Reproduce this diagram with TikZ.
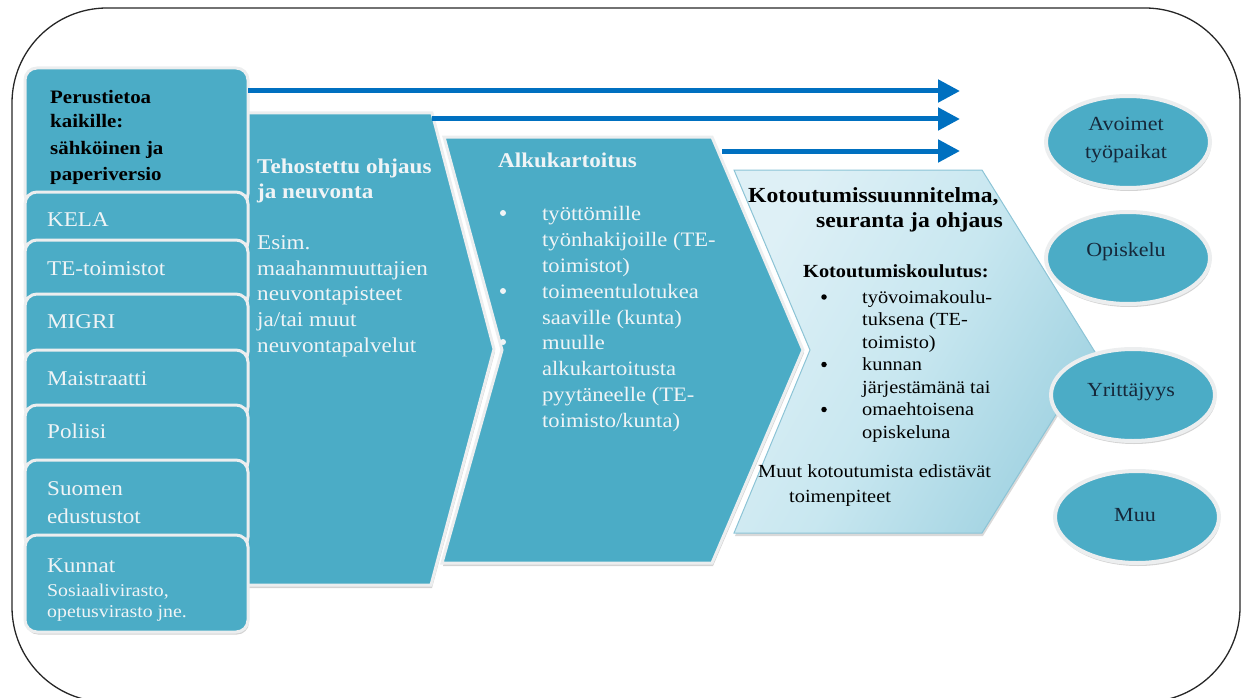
\documentclass[tikz,border=0pt]{standalone}
\usepackage{fontspec}
\setmainfont{Liberation Serif}[FakeStretch=1.1]
\usetikzlibrary{arrows.meta,shadows}

\definecolor{tealFill}{RGB}{75,172,198}
\definecolor{paleText}{RGB}{240,244,246}
\definecolor{rimGray}{RGB}{236,238,239}
\definecolor{arrowBlue}{RGB}{0,112,192}
\definecolor{kotoLight}{RGB}{222,240,246}
\definecolor{kotoMid}{RGB}{200,231,240}
\definecolor{kotoDark}{RGB}{160,210,225}
\definecolor{kotoEdge}{RGB}{140,196,214}
\definecolor{ellText}{RGB}{22,40,58}

\tikzset{
  frameline/.style={draw=black!85, line width=1.3pt, rounded corners=95pt},
  leftbox/.style={fill=tealFill, draw=rimGray, line width=3pt, rounded corners=12pt,
    drop shadow={shadow xshift=1pt, shadow yshift=-2.5pt, opacity=0.35}},
  chevbox/.style={fill=tealFill, draw=rimGray, line width=3pt, line join=miter,
    drop shadow={shadow xshift=1pt, shadow yshift=-3pt, opacity=0.35}},
  kotochev/.style={left color=kotoLight, right color=kotoDark, middle color=kotoMid,
    shading angle=60, draw=kotoEdge, line width=1pt,
    drop shadow={shadow xshift=1pt, shadow yshift=-3pt, opacity=0.3}},
  goalell/.style={ellipse, fill=tealFill, draw=rimGray, line width=4pt,
    minimum width=164pt, minimum height=92pt, inner sep=0pt,
    drop shadow={shadow xshift=1pt, shadow yshift=-3pt, opacity=0.35}},
  flowarrow/.style={arrowBlue, line width=5pt, -{Triangle[length=22pt,width=22pt]}},
  wtxt/.style={anchor=base west, inner sep=0pt, text=paleText, font=\fontsize{21}{26}\selectfont},
  wbold/.style={wtxt, font=\fontsize{21}{26}\selectfont\bfseries},
  ktxt/.style={anchor=base west, inner sep=0pt, text=black, font=\fontsize{18.5}{22}\selectfont},
  kbold/.style={ktxt, font=\fontsize{18.5}{22}\selectfont\bfseries},
  elltxt/.style={anchor=base, inner sep=0pt, text=ellText, font=\fontsize{20}{26}\selectfont},
  dot/.style={circle, inner sep=0pt, minimum size=6pt},
}
\usetikzlibrary{shapes.geometric}

\begin{document}
\begin{tikzpicture}[x=1pt, y=-1pt]
  \useasboundingbox (0,0) rectangle (1244,698);

  % Outer frame
  \draw[frameline] (12,8) rectangle (1240,702);

  % Chevrons, back to front
  \shadedraw[kotochev] (734,170) -- (982,170) -- (1095,352) -- (982,533)
    -- (734,533) -- (810,350) -- cycle;
  \draw[chevbox] (444,137) -- (712,137) -- (803,350) -- (712,563)
    -- (442,563) -- (502,350) -- cycle;
  \draw[chevbox] (240,113) -- (432,113) -- (494,349) -- (431,585)
    -- (240,585) -- cycle;

  % Left column boxes
  \foreach \t/\b in {68/206, 192/254, 240/308, 294/364, 350/419, 405/474, 460/549, 535/632} {
    \draw[leftbox] (25,\t) rectangle (248,\b);
  }

  % Goal ellipses
  \foreach \n/\x/\y in {avoimet/1128/142, opiskelu/1128/258, yritys/1133/395, muu/1137/517} {
    \node[goalell] (\n) at (\x,\y) {};
  }

  % Arrows to the goals
  \coordinate (a1s) at (248,91);  \coordinate (a1e) at (960,91);
  \coordinate (a2s) at (432,119); \coordinate (a2e) at (960,119);
  \coordinate (a3s) at (722,151); \coordinate (a3e) at (960,151);
  \draw[flowarrow] (a1s) -- (a1e);
  \draw[flowarrow] (a2s) -- (a2e);
  \draw[flowarrow] (a3s) -- (a3e);

  % Top box text
  \foreach \y/\txt [count=\i] in {103/Perustietoa, 128/kaikille:, 154/sähköinen ja, 180/paperiversio} {
    \node[anchor=base west, inner sep=0pt, font=\fontsize{19}{26}\selectfont\bfseries] (perus\i) at (50,\y) {\txt};
  }

  % Left box labels
  \foreach \y/\txt [count=\i] in {226/KELA, 275/TE-toimistot, 328/MIGRI, 385/Maistraatti,
      438/Poliisi, 495/Suomen, 523/edustustot, 572/Kunnat} {
    \node[wtxt] (org\i) at (47,\y) {\txt};
  }
  \node[wtxt, font=\fontsize{18}{22}\selectfont] (kunnat2) at (47,596) {Sosiaalivirasto,};
  \node[wtxt, font=\fontsize{18}{22}\selectfont] (kunnat3) at (47,617) {opetusvirasto jne.};

  % Tehostettu ohjaus
  \node[wbold] (teho1) at (257,173) {Tehostettu ohjaus};
  \node[wbold] (teho2) at (257,198) {ja neuvonta};
  \foreach \y/\txt [count=\i] in {249/Esim., 275/maahanmuuttajien, 300/neuvontapisteet,
      326/{ja/tai muut}, 352/neuvontapalvelut} {
    \node[wtxt] (esim\i) at (257,\y) {\txt};
  }

  % Alkukartoitus
  \node[wbold] (alku) at (498,167) {Alkukartoitus};
  \foreach \y/\txt [count=\i] in {220/työttömille, 246/työnhakijoille (TE-, 272/toimistot),
      298/toimeentulotukea, 324/saaville (kunta), 349/muulle, 375/alkukartoitusta,
      401/pyytäneelle (TE-, 427/{toimisto/kunta)}} {
    \node[wtxt, font=\fontsize{20.5}{26}\selectfont] (alku\i) at (542,\y) {\txt};
  }
  \foreach \y [count=\i] in {213, 291, 342} {
    \node[dot, fill=paleText] (abul\i) at (503,\y) {};
  }

  % Kotoutumissuunnitelma
  \node[kbold, font=\fontsize{21.5}{26}\selectfont\bfseries] (koto1) at (748,202) {Kotoutumissuunnitelma,};
  \node[kbold, anchor=base east, font=\fontsize{21.5}{26}\selectfont\bfseries] (koto2) at (1003,227) {seuranta ja ohjaus};
  \node[kbold] (koul) at (803,277) {Kotoutumiskoulutus:};
  \foreach \y/\txt [count=\i] in {303/työvoimakoulu-, 325.5/tuksena (TE-, 348/toimisto),
      370.5/kunnan, 393/järjestämänä tai, 415.5/omaehtoisena, 438/opiskeluna} {
    \node[ktxt] (koul\i) at (862,\y) {\txt};
  }
  \foreach \y [count=\i] in {297, 364.5, 409.5} {
    \node[dot, fill=black, minimum size=5.5pt] (kbul\i) at (824,\y) {};
  }
  \node[ktxt] (muut1) at (758,477) {Muut kotoutumista edistävät};
  \node[ktxt] (muut2) at (789,502) {toimenpiteet};

  % Goal labels
  \node[elltxt] (avoTxt1) at (1126,131) {Avoimet};
  \node[elltxt] (avoTxt2) at (1126,158) {työpaikat};
  \node[elltxt] (opiTxt) at (1126,256) {Opiskelu};
  \node[elltxt] (yriTxt) at (1131,396) {Yrittäjyys};
  \node[elltxt] (muuTxt) at (1135,521) {Muu};
\end{tikzpicture}
\end{document}
